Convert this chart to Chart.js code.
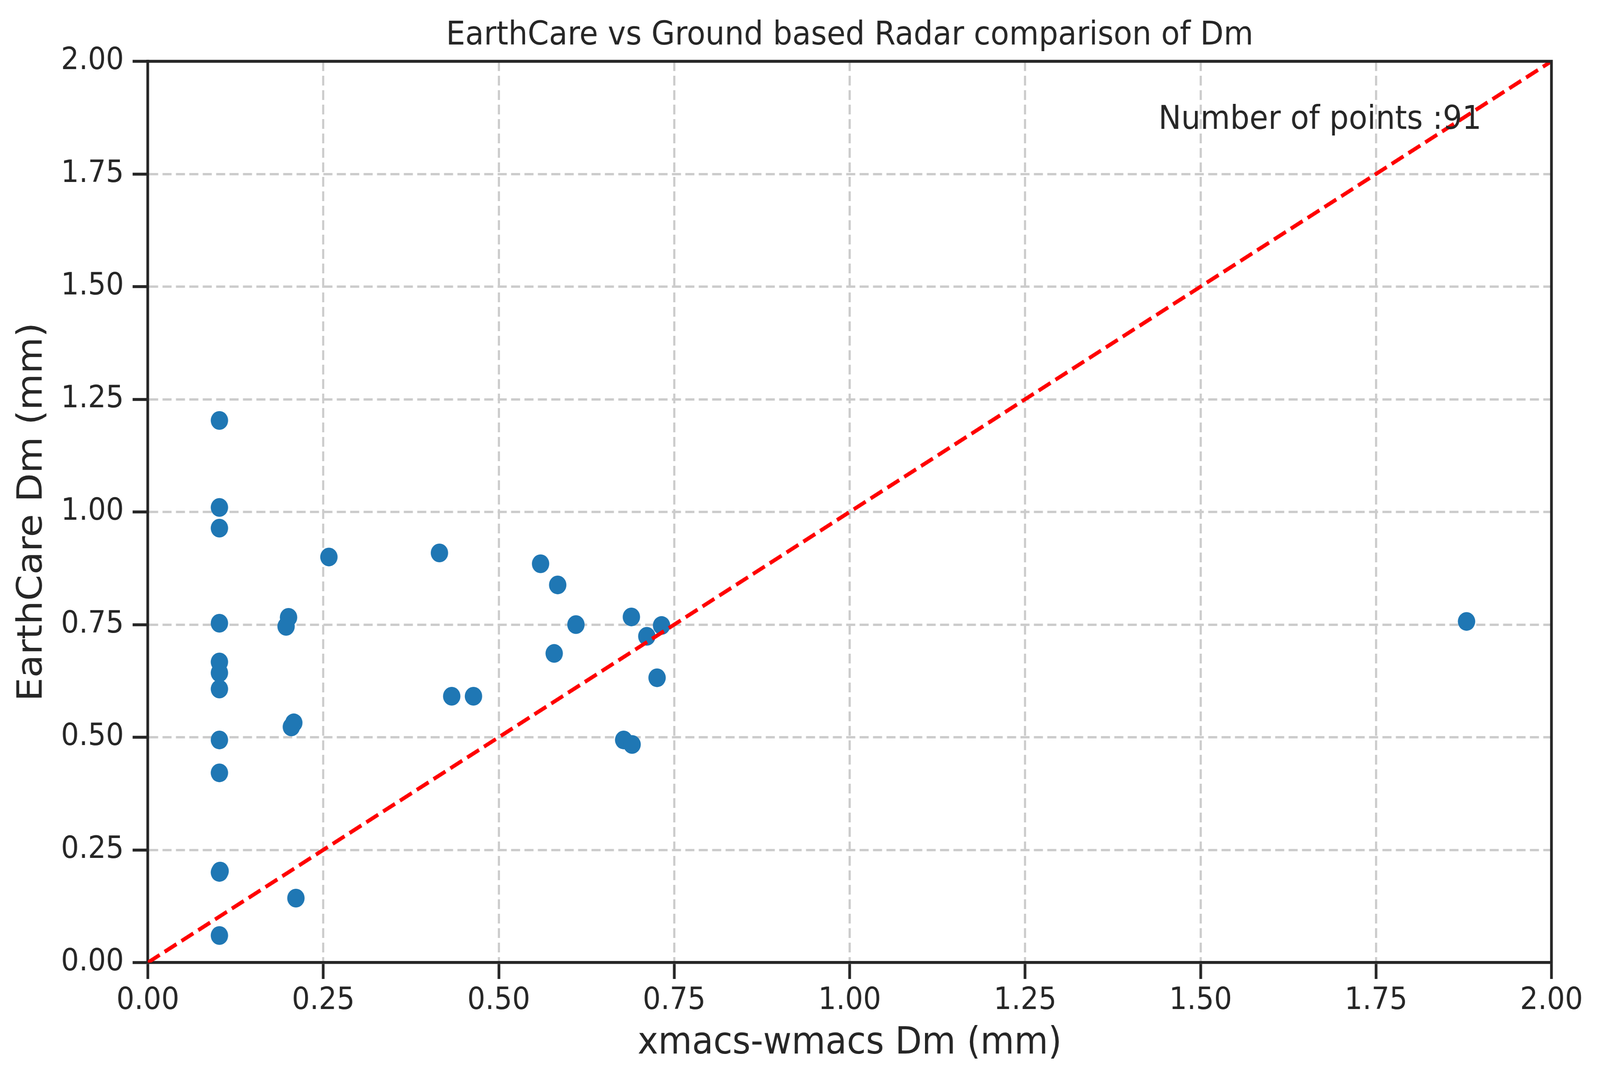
<!DOCTYPE html>
<html>
<head>
<meta charset="utf-8">
<script src="https://cdn.jsdelivr.net/npm/chart.js@4.4.1/dist/chart.umd.min.js"></script>
<style>
  html, body { margin: 0; padding: 0; background: #ffffff; overflow: hidden; }
  canvas { display: block; }
</style>
</head>
<body>
<!-- drawn at 4416x2776, stretched over the whole window -->
<canvas id="dmscatter" width="4416" height="2776" style="width:100vw;height:100vh"></canvas>
<script>
// Dm values (mm)
var xmacsDm = [
  0.102, 0.102, 0.102, 0.102, 0.102, 0.102, 0.102, 0.102, 0.102, 0.102, 0.103, 0.102,
  0.2005, 0.197, 0.208, 0.2045, 0.211, 0.258,
  0.4155, 0.433, 0.464,
  0.5596, 0.584, 0.610, 0.689, 0.732, 0.711, 0.579, 0.7256, 0.678, 0.690,
  1.879
];
var earthcareDm = [
  1.203, 1.010, 0.964, 0.753, 0.667, 0.643, 0.607, 0.494, 0.421, 0.200, 0.203, 0.060,
  0.766, 0.746, 0.532, 0.523, 0.143, 0.900,
  0.909, 0.591, 0.591,
  0.885, 0.838, 0.750, 0.767, 0.748, 0.724, 0.686, 0.632, 0.494, 0.484,
  0.757
];
var oneToOne = [0, 2];
var axisTicks = [0, 0.25, 0.5, 0.75, 1.0, 1.25, 1.5, 1.75, 2.0];
var nPoints = 91;

var chartTitle = "EarthCare vs Ground based Radar comparison of Dm";
var xLabel = "xmacs-wmacs Dm (mm)";
var yLabel = "EarthCare Dm (mm)";

var ink = "#262626";
Chart.defaults.font.family = "'DejaVu Sans'";
Chart.defaults.color = ink;

var scatterPoints = xmacsDm.map(function (x, i) { return { x: x, y: earthcareDm[i] }; });
var linePoints = oneToOne.map(function (v) { return { x: v, y: v }; });

// title, annotation and the top/right spines
var extrasPlugin = {
  id: "extras",
  afterDraw: function (chart) {
    var ctx = chart.ctx;
    var area = chart.chartArea;
    ctx.save();
    ctx.strokeStyle = ink;
    ctx.lineWidth = 7.5;
    ctx.beginPath();
    ctx.moveTo(area.left - 3.75, area.top);
    ctx.lineTo(area.right, area.top);
    ctx.lineTo(area.right, area.bottom + 3.75);
    ctx.stroke();

    ctx.fillStyle = ink;
    ctx.textBaseline = "alphabetic";
    ctx.textAlign = "center";
    ctx.font = "84px 'DejaVu Sans'";
    ctx.fillText(chartTitle, (area.left + area.right) / 2, 114);

    ctx.textAlign = "left";
    ctx.fillText("Number of points :" + nPoints,
      chart.scales.x.getPixelForValue(1.44),
      chart.scales.y.getPixelForValue(1.85));
    ctx.restore();
  }
};

var tickFmt = function (v) { return Number(v).toFixed(2); };

var ctx = document.getElementById("dmscatter").getContext("2d");
var myScatter = new Chart(ctx, {
  type: "scatter",
  data: {
    datasets: [
      {
        label: "1:1",
        data: linePoints,
        showLine: true,
        borderColor: "#ff0000",
        borderWidth: 10,
        borderDash: [38, 16],
        pointRadius: 0,
        order: 0
      },
      {
        label: "Dm",
        data: scatterPoints,
        backgroundColor: "#1f77b4",
        borderWidth: 0,
        pointRadius: 24,
        order: 1
      }
    ]
  },
  options: {
    responsive: false,
    animation: false,
    devicePixelRatio: 1,
    layout: { padding: { top: 157, right: 134, bottom: 0, left: 0 } },
    plugins: {
      legend: { display: false },
      tooltip: { enabled: false }
    },
    scales: {
      x: {
        type: "linear",
        min: 0,
        max: 2,
        afterBuildTicks: function (scale) {
          scale.ticks = axisTicks.map(function (v) { return { value: v }; });
        },
        afterFit: function (scale) {
          scale.height = 311;
          scale.paddingLeft = 0;
          scale.paddingRight = 0;
        },
        ticks: {
          callback: tickFmt,
          font: { size: 78 },
          color: ink,
          padding: 10,
          maxRotation: 0,
          autoSkip: false
        },
        grid: {
          color: "#cccccc",
          lineWidth: 6,
          tickLength: 42,
          tickWidth: 7.5,
          tickColor: ink
        },
        border: { display: true, color: ink, width: 7.5, dash: [25, 12] },
        title: {
          display: true,
          text: xLabel,
          font: { size: 96 },
          color: ink,
          padding: { top: 0, bottom: 45 }
        }
      },
      y: {
        type: "linear",
        min: 0,
        max: 2,
        afterBuildTicks: function (scale) {
          scale.ticks = axisTicks.map(function (v) { return { value: v }; });
        },
        afterFit: function (scale) {
          scale.width = 408;
          scale.paddingTop = 0;
          scale.paddingBottom = 0;
        },
        ticks: {
          callback: tickFmt,
          font: { size: 78 },
          color: ink,
          padding: 24,
          autoSkip: false
        },
        grid: {
          color: "#cccccc",
          lineWidth: 6,
          tickLength: 42,
          tickWidth: 7.5,
          tickColor: ink
        },
        border: { display: true, color: ink, width: 7.5, dash: [25, 12] },
        title: {
          display: true,
          text: yLabel,
          font: { size: 96 },
          color: ink,
          padding: { top: 32, bottom: 0 }
        }
      }
    }
  },
  plugins: [extrasPlugin]
});
</script>
</body>
</html>
